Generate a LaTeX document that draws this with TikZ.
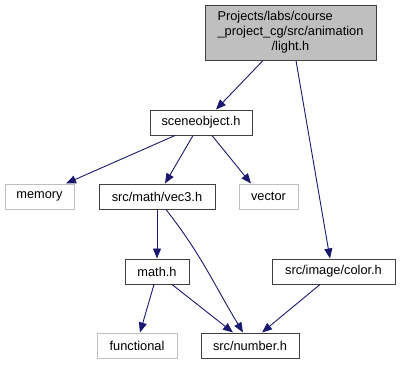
\documentclass[tikz,border=0pt]{standalone}
\usepackage{fontspec}
\usepackage{calc}
\setmainfont{Liberation Sans}
\usetikzlibrary{arrows.meta}

\definecolor{edgeblue}{HTML}{191970}
\definecolor{boxline}{HTML}{404040}
\definecolor{extline}{HTML}{BFBFBF}
\definecolor{rootfill}{HTML}{BFBFBF}

\tikzset{
  hdr/.style={draw=boxline, line width=1pt, rectangle, inner sep=0pt,
    minimum height=25pt, font=\fontsize{12.8}{15}\selectfont},
  ext/.style={hdr, draw=extline},
  root/.style={hdr, fill=rootfill, minimum height=55pt, align=center},
  dep/.style={draw=edgeblue, line width=0.9pt,
    -{Triangle[length=10pt,width=8pt]}, color=edgeblue},
}

\begin{document}
\begin{tikzpicture}[x=1pt,y=-1pt]
  \useasboundingbox (0,0) rectangle (400,365);

  % files of the include graph
  \node[root, minimum width=171pt] (light) at (290.5,32.5)
    {\makebox[\widthof{\_project\_cg/src/animation}][l]{Projects/labs/course}\\
     \_project\_cg/src/animation\\
     /light.h};
  \node[hdr, minimum width=102pt] (scene) at (201,122.5) {sceneobject.h};
  \node[ext, minimum width=69pt]  (memory) at (39.5,196.5) {memory};
  \node[hdr, minimum width=116pt] (vec3) at (157,196.5) {src/math/vec3.h};
  \node[ext, minimum width=59pt]  (vector) at (268.5,196.5) {vector};
  \node[hdr, minimum width=64pt]  (math) at (157,271.5) {math.h};
  \node[hdr, minimum width=123pt] (color) at (333.5,271.5) {src/image/color.h};
  \node[ext, minimum width=80pt]  (functional) at (137,345.5) {functional};
  \node[hdr, minimum width=98pt]  (number) at (250,345.5) {src/number.h};

  % include dependencies
  \draw[dep] ([xshift=-27.5pt]light.south) -- ([xshift=15pt]scene.north);
  \draw[dep] ([xshift=5.5pt]light.south) -- ([xshift=-3.5pt]color.north);
  \draw[dep] ([xshift=-26pt]scene.south) -- ([xshift=26.5pt]memory.north);
  \draw[dep] ([xshift=-8pt]scene.south) -- ([xshift=8pt]vec3.north);
  \draw[dep] ([xshift=11pt]scene.south) -- ([xshift=-17.5pt]vector.north);
  \draw[dep] (vec3.south) -- (math.north);
  \draw[dep] ([xshift=9pt]vec3.south) to[out=-52,in=121] ([xshift=-7pt]number.north);
  \draw[dep] ([xshift=-3pt]math.south) -- ([xshift=3pt]functional.north);
  \draw[dep] ([xshift=15pt]math.south) -- ([xshift=-17pt]number.north);
  \draw[dep] ([xshift=-13.5pt]color.south) -- ([xshift=12pt]number.north);
\end{tikzpicture}
\end{document}
